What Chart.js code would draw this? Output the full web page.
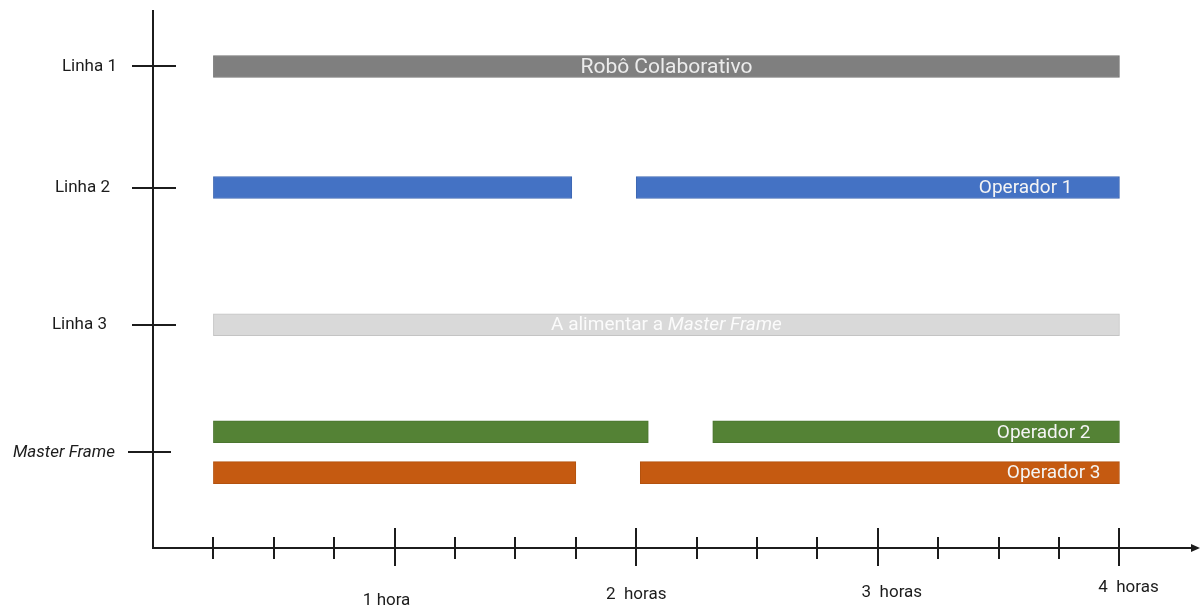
<!DOCTYPE html>
<html>
<head>
<meta charset="utf-8">
<script src="https://cdn.jsdelivr.net/npm/chart.js@4/dist/chart.umd.min.js"></script>
<style>
  html, body { margin: 0; padding: 0; background: #ffffff; }
  #wrap { width: 1201px; height: 607px; position: relative; }
</style>
</head>
<body>
<div id="wrap"><canvas id="chart"></canvas></div>
<script>
// Time runs in minutes along x; rows sit on a vertical position scale (0 = time axis, 10 = top).
const rowLabels = ['Linha 1', 'Linha 2', 'Linha 3', 'Master Frame'];
const rowPositions = [8.95, 6.7, 4.15, 1.78];

const hourTicks = [60, 120, 180, 240];
const hourLabels = ['1 hora', '2  horas', '3  horas', '4  horas'];
const quarterTicks = [15, 30, 45, 75, 90, 105, 135, 150, 165, 195, 210, 225];

// Activity intervals [start, end] in minutes, per lane
const robotRow = 8.95;
const robotIntervals = [[15, 240]];
const operator1Row = 6.7;
const operator1Intervals = [[15, 104], [120, 240]];
const feedingRow = 4.15;
const feedingIntervals = [[15, 240]];
const operator2Row = 2.16;
const operator2Intervals = [[15, 123], [139, 240]];
const operator3Row = 1.4;
const operator3Intervals = [[15, 105], [121, 240]];

const barTexts = ['Robô Colaborativo', 'Operador 1', 'A alimentar a |Master Frame', 'Operador 2', 'Operador 3'];

const FONT = 'Roboto, "Noto Sans", sans-serif';
const INK = '#1c1c1c';

function lane(intervals, row) {
  return intervals.map(iv => ({ x: iv, y: row }));
}

const datasets = [
  { label: 'Robô Colaborativo', data: lane(robotIntervals, robotRow),
    backgroundColor: '#7f7f7f', borderColor: '#737373',
    textColor: '#ececec', textMode: 'center', textSize: 21 },
  { label: 'Operador 1', data: lane(operator1Intervals, operator1Row),
    backgroundColor: '#4472c4', borderColor: '#3d67b2',
    textColor: '#f4f4f4', textMode: 'right', textInset: 47, textSize: 19 },
  { label: 'A alimentar a Master Frame', data: lane(feedingIntervals, feedingRow),
    backgroundColor: '#d9d9d9', borderColor: '#c4c4c4',
    textColor: '#fbfbfb', textMode: 'center', textSize: 19 },
  { label: 'Operador 2', data: lane(operator2Intervals, operator2Row),
    backgroundColor: '#548235', borderColor: '#4b7530',
    textColor: '#f4f4f4', textMode: 'right', textInset: 29, textSize: 19 },
  { label: 'Operador 3', data: lane(operator3Intervals, operator3Row),
    backgroundColor: '#c55a11', borderColor: '#b3520f',
    textColor: '#f4f4f4', textMode: 'right', textInset: 19, textSize: 19 }
];
datasets.forEach((d, i) => { d.barText = barTexts[i]; });

// Writes each lane's caption on top of its bars (a "|" switches to italics)
const barTextPlugin = {
  id: 'barText',
  afterDatasetsDraw(chart) {
    const ctx = chart.ctx;
    chart.data.datasets.forEach((ds, i) => {
      const els = chart.getDatasetMeta(i).data;
      if (!els.length) return;
      const first = els[0], last = els[els.length - 1];
      const parts = ds.barText.split('|');
      const fonts = [ds.textSize + 'px ' + FONT, 'italic ' + ds.textSize + 'px ' + FONT];
      ctx.save();
      ctx.fillStyle = ds.textColor;
      ctx.textBaseline = 'middle';
      ctx.textAlign = 'left';
      const widths = parts.map((p, k) => { ctx.font = fonts[k]; return ctx.measureText(p).width; });
      const total = widths.reduce((a, b) => a + b, 0);
      let x;
      if (ds.textMode === 'center') {
        x = (Math.min(first.base, first.x) + Math.max(last.base, last.x)) / 2 - total / 2;
      } else {
        x = Math.max(last.base, last.x) - ds.textInset - total;
      }
      const y = last.y + 1;
      parts.forEach((p, k) => { ctx.font = fonts[k]; ctx.fillText(p, x, y); x += widths[k]; });
      ctx.restore();
    });
  }
};

// Draws the axis lines with crossing tick marks, the arrow head and the axis labels
const axesPlugin = {
  id: 'axesLines',
  afterDraw(chart, args, opts) {
    const ctx = chart.ctx;
    const xs = chart.scales.x, ys = chart.scales.y;
    const x0 = xs.getPixelForValue(0);
    const y0 = ys.getPixelForValue(0);
    const yTop = ys.getPixelForValue(10);
    const xEnd = chart.chartArea.right;
    ctx.save();
    ctx.strokeStyle = INK;
    ctx.fillStyle = INK;
    ctx.lineWidth = 2;
    ctx.beginPath();
    ctx.moveTo(x0, yTop);
    ctx.lineTo(x0, y0);
    ctx.lineTo(xEnd - 6, y0);
    ctx.stroke();
    ctx.beginPath();
    ctx.moveTo(xEnd, y0);
    ctx.lineTo(xEnd - 9, y0 - 4);
    ctx.lineTo(xEnd - 9, y0 + 4);
    ctx.closePath();
    ctx.fill();

    ctx.beginPath();
    quarterTicks.forEach(v => {
      const px = Math.round(xs.getPixelForValue(v));
      ctx.moveTo(px, y0 - 11); ctx.lineTo(px, y0 + 11);
    });
    hourTicks.forEach(v => {
      const px = Math.round(xs.getPixelForValue(v));
      ctx.moveTo(px, y0 - 20); ctx.lineTo(px, y0 + 18);
    });
    rowPositions.forEach((v, i) => {
      const py = Math.round(ys.getPixelForValue(v));
      const isMF = rowLabels[i] === 'Master Frame';
      ctx.moveTo(x0 - (isMF ? 25 : 21), py);
      ctx.lineTo(x0 + (isMF ? 18 : 23), py);
    });
    ctx.stroke();

    // time labels under the hour ticks
    ctx.font = '17px ' + FONT;
    ctx.textAlign = 'center';
    ctx.textBaseline = 'middle';
    hourTicks.forEach((v, i) => {
      const [dx, dy] = opts.hourLabelShift[i];
      ctx.fillText(hourLabels[i], xs.getPixelForValue(v) + dx, y0 + dy);
    });

    // lane labels left of the vertical axis
    ctx.textAlign = 'right';
    rowPositions.forEach((v, i) => {
      const italic = rowLabels[i] === 'Master Frame';
      ctx.font = (italic ? 'italic ' : '') + '17px ' + FONT;
      ctx.fillText(rowLabels[i], x0 - opts.rowLabelGap[i], ys.getPixelForValue(v) + opts.rowLabelDy[i]);
    });
    ctx.restore();
  }
};

new Chart(document.getElementById('chart'), {
  type: 'bar',
  data: { datasets },
  plugins: [barTextPlugin, axesPlugin],
  options: {
    indexAxis: 'y',
    responsive: true,
    maintainAspectRatio: false,
    animation: false,
    layout: { padding: { top: 10, right: 1, left: 0, bottom: 0 } },
    datasets: {
      bar: { grouped: false, barThickness: 22, borderWidth: 1, borderSkipped: false }
    },
    plugins: {
      legend: { display: false },
      tooltip: { enabled: false },
      axesLines: {
        hourLabelShift: [[-8, 53], [0, 47], [14, 45], [9, 40]],
        rowLabelGap: [36, 43, 46, 38],
        rowLabelDy: [0, 0, 0, 1]
      }
    },
    scales: {
      x: {
        type: 'linear',
        min: 0, max: 260,
        grid: { display: false, drawTicks: false },
        border: { display: false },
        ticks: { display: false },
        afterFit(scale) { scale.height = 59; }
      },
      y: {
        type: 'linear',
        min: 0, max: 10,
        offset: false,
        grid: { display: false, drawTicks: false },
        border: { display: false },
        ticks: { display: false },
        afterFit(scale) { scale.width = 153; }
      }
    }
  }
});
</script>
</body>
</html>
